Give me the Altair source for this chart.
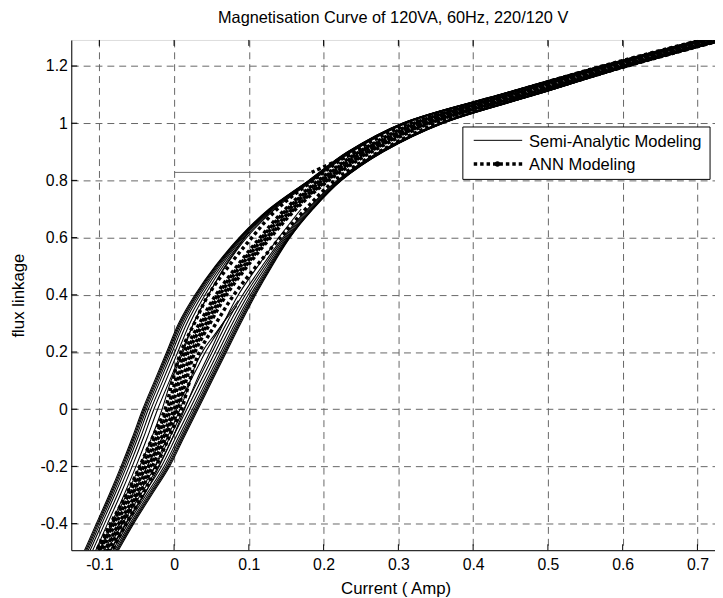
import altair as alt
import pandas as pd

# ---------------- data ----------------
X_TICKS = [-0.1, 0, 0.1, 0.2, 0.3, 0.4, 0.5, 0.6, 0.7]
Y_TICKS = [-0.4, -0.2, 0, 0.2, 0.4, 0.6, 0.8, 1, 1.2]

# flux levels at which the loop branches were read
Y_GRID = [1.31, 1.2, 1.1, 1.0, 0.9, 0.8, 0.7, 0.6, 0.5, 0.4, 0.3, 0.2, 0.1, 0.0,
          -0.1, -0.2, -0.3, -0.4, -0.5, -0.6]

# Semi-analytic model: nested hysteresis loops (left / right branch currents)
S1_LEFT = [0.730, 0.570, 0.435, 0.305, 0.232, 0.180, 0.127, 0.087, 0.055, 0.028, 0.006, -0.010, -0.026, -0.042, -0.056, -0.071, -0.087, -0.104, -0.121, -0.140]
S2_LEFT = [0.7305, 0.5705, 0.4355, 0.3055, 0.2325, 0.1805, 0.1276, 0.0878, 0.056, 0.0294, 0.0075, -0.0085, -0.0245, -0.0405, -0.0545, -0.0695, -0.0855, -0.1025, -0.1195, -0.1385]
S3_LEFT = [0.7309, 0.571, 0.436, 0.3059, 0.2329, 0.1809, 0.1282, 0.0885, 0.0571, 0.0307, 0.009, -0.007, -0.023, -0.039, -0.053, -0.068, -0.084, -0.101, -0.118, -0.137]
S4_LEFT = [0.7315, 0.5718, 0.4368, 0.3065, 0.2335, 0.1815, 0.129, 0.0895, 0.0585, 0.0325, 0.011, -0.005, -0.021, -0.037, -0.051, -0.066, -0.082, -0.099, -0.116, -0.135]
S5_LEFT = [0.7323, 0.5726, 0.4376, 0.3073, 0.2343, 0.1823, 0.130, 0.0908, 0.0603, 0.0348, 0.0135, -0.0025, -0.0185, -0.0345, -0.0485, -0.0635, -0.0795, -0.0965, -0.1135, -0.1325]
S6_LEFT = [0.7333, 0.5739, 0.4389, 0.3083, 0.2353, 0.1833, 0.1314, 0.0925, 0.0627, 0.0379, 0.017, 0.001, -0.015, -0.031, -0.045, -0.060, -0.076, -0.093, -0.110, -0.129]
S7_LEFT = [0.7345, 0.5753, 0.4403, 0.3095, 0.2365, 0.1845, 0.133, 0.0945, 0.0655, 0.0415, 0.021, 0.005, -0.011, -0.027, -0.041, -0.056, -0.072, -0.089, -0.106, -0.125]
S8_LEFT = [0.736, 0.577, 0.442, 0.311, 0.238, 0.186, 0.135, 0.097, 0.069, 0.046, 0.026, 0.010, -0.006, -0.022, -0.036, -0.051, -0.067, -0.084, -0.101, -0.120]

S1_RIGHT = [0.765, 0.610, 0.485, 0.360, 0.280, 0.224, 0.186, 0.155, 0.131, 0.109, 0.089, 0.070, 0.051, 0.032, 0.013, -0.006, -0.030, -0.054, -0.076, -0.098]
S2_RIGHT = [0.7646, 0.6095, 0.4845, 0.3596, 0.2796, 0.2236, 0.1854, 0.1543, 0.130, 0.1076, 0.0875, 0.0685, 0.0495, 0.0305, 0.0115, -0.0075, -0.0315, -0.0555, -0.0775, -0.0995]
S3_RIGHT = [0.7641, 0.609, 0.484, 0.3591, 0.2791, 0.2231, 0.1848, 0.1535, 0.1289, 0.1063, 0.086, 0.067, 0.048, 0.029, 0.010, -0.009, -0.033, -0.057, -0.079, -0.101]
S4_RIGHT = [0.7635, 0.6083, 0.4833, 0.3585, 0.2785, 0.2225, 0.184, 0.1525, 0.1275, 0.1045, 0.084, 0.065, 0.046, 0.027, 0.008, -0.011, -0.035, -0.059, -0.081, -0.103]
S5_RIGHT = [0.7628, 0.6074, 0.4824, 0.3578, 0.2778, 0.2218, 0.183, 0.1513, 0.1258, 0.1023, 0.0815, 0.0625, 0.0435, 0.0245, 0.0055, -0.0135, -0.0375, -0.0615, -0.0835, -0.1055]
S6_RIGHT = [0.7617, 0.6062, 0.4812, 0.3567, 0.2767, 0.2207, 0.1816, 0.1495, 0.1233, 0.0991, 0.078, 0.059, 0.040, 0.021, 0.002, -0.017, -0.041, -0.065, -0.087, -0.109]
S7_RIGHT = [0.7605, 0.6048, 0.4798, 0.3555, 0.2755, 0.2195, 0.180, 0.1475, 0.1205, 0.0955, 0.074, 0.055, 0.036, 0.017, -0.002, -0.021, -0.045, -0.069, -0.091, -0.113]
S8_RIGHT = [0.7593, 0.6034, 0.4784, 0.3543, 0.2743, 0.2183, 0.1784, 0.1455, 0.1177, 0.0919, 0.070, 0.051, 0.032, 0.013, -0.006, -0.025, -0.049, -0.073, -0.095, -0.117]

# inner thin semi-analytic traces (transients)
W1_X = [0.100, 0.068, 0.046, 0.026, 0.012, -0.004, -0.016, -0.030, -0.046, -0.064, -0.082, -0.100]
W1_Y = [0.62, 0.50, 0.40, 0.30, 0.20, 0.10, 0.00, -0.10, -0.20, -0.30, -0.40, -0.50]
W2_X = [0.170, 0.140, 0.112, 0.086, 0.066, 0.048, 0.030, 0.014, -0.002, -0.020, -0.040, -0.064, -0.086]
W2_Y = [0.70, 0.60, 0.50, 0.40, 0.30, 0.20, 0.10, 0.00, -0.10, -0.20, -0.30, -0.40, -0.50]
T1_X = [-0.056, -0.046, -0.036, -0.024, -0.012, 0.000, 0.010, 0.020, 0.030, 0.042, 0.056, 0.070, 0.086]
T1_Y = [-0.30, -0.25, -0.20, -0.14, -0.08, -0.02, 0.04, 0.09, 0.14, 0.20, 0.26, 0.32, 0.38]
T2_X = [-0.030, -0.022, -0.014, -0.004, 0.008, 0.018, 0.028, 0.040, 0.054, 0.068, 0.084]
T2_Y = [-0.22, -0.18, -0.127, -0.07, 0.00, 0.07, 0.15, 0.21, 0.26, 0.31, 0.36]

# ANN model loops
A1_LEFT = [0.744, 0.5864, 0.4564, 0.329, 0.2536, 0.198, 0.154, 0.120, 0.089, 0.061, 0.039, 0.019, 0.007, -0.004, -0.021, -0.038, -0.056, -0.078, -0.098, -0.119]
A1_RIGHT = [0.750, 0.5936, 0.4636, 0.335, 0.2584, 0.202, 0.158, 0.124, 0.093, 0.065, 0.043, 0.023, 0.011, 0.000, -0.017, -0.034, -0.052, -0.074, -0.094, -0.115]
A2_LEFT = [0.7403, 0.5819, 0.4519, 0.3253, 0.2506, 0.1955, 0.1515, 0.1175, 0.0865, 0.0585, 0.0365, 0.0165, 0.0045, -0.0065, -0.0235, -0.0405, -0.0585, -0.0805, -0.1005, -0.1215]
A2_RIGHT = [0.7538, 0.5981, 0.4681, 0.3388, 0.2614, 0.2045, 0.1605, 0.1265, 0.0955, 0.0675, 0.0455, 0.0255, 0.0135, 0.0025, -0.0145, -0.0315, -0.0495, -0.0715, -0.0915, -0.1125]
A4_LEFT = [0.7365, 0.5774, 0.4474, 0.3215, 0.2476, 0.193, 0.149, 0.115, 0.084, 0.056, 0.034, 0.014, 0.002, -0.009, -0.026, -0.043, -0.061, -0.083, -0.103, -0.124]
A4_RIGHT = [0.7575, 0.6026, 0.4726, 0.3425, 0.2644, 0.207, 0.163, 0.129, 0.098, 0.070, 0.048, 0.028, 0.016, 0.005, -0.012, -0.029, -0.047, -0.069, -0.089, -0.110]
A3_LEFT = [0.733, 0.573, 0.442, 0.316, 0.240, 0.186, 0.138, 0.104, 0.073, 0.046, 0.027, 0.009, -0.002, -0.012, -0.029, -0.046, -0.064, -0.085, -0.105, -0.126]
A3_RIGHT = [0.761, 0.606, 0.478, 0.352, 0.274, 0.215, 0.176, 0.142, 0.110, 0.080, 0.056, 0.034, 0.021, 0.010, -0.007, -0.024, -0.042, -0.064, -0.084, -0.105]
A0_X = [0.184, 0.215, 0.250, 0.290, 0.340, 0.400]
A0_Y = [0.828, 0.865, 0.905, 0.950, 1.000, 1.050]

# initial flat segment
H_X = [0.0, 0.184]
H_Y = [0.828, 0.828]

# ---------------- tables ----------------
def table(series_list):
    rows = []
    for name, xs, ys in series_list:
        for i, (xv, yv) in enumerate(zip(xs, ys)):
            rows.append({"series": name, "x": xv, "y": yv, "order": i})
    return pd.DataFrame(rows)

semi_df = table([
    ("S1L", S1_LEFT, Y_GRID), ("S2L", S2_LEFT, Y_GRID), ("S3L", S3_LEFT, Y_GRID),
    ("S4L", S4_LEFT, Y_GRID), ("S5L", S5_LEFT, Y_GRID), ("S6L", S6_LEFT, Y_GRID),
    ("S7L", S7_LEFT, Y_GRID), ("S8L", S8_LEFT, Y_GRID),
    ("S1R", S1_RIGHT, Y_GRID), ("S2R", S2_RIGHT, Y_GRID), ("S3R", S3_RIGHT, Y_GRID),
    ("S4R", S4_RIGHT, Y_GRID), ("S5R", S5_RIGHT, Y_GRID), ("S6R", S6_RIGHT, Y_GRID),
    ("S7R", S7_RIGHT, Y_GRID), ("S8R", S8_RIGHT, Y_GRID),
    ("W1", W1_X, W1_Y), ("W2", W2_X, W2_Y), ("T1", T1_X, T1_Y), ("T2", T2_X, T2_Y),
])
ann_df = table([
    ("A1L", A1_LEFT, Y_GRID), ("A1R", A1_RIGHT, Y_GRID),
    ("A2L", A2_LEFT, Y_GRID), ("A2R", A2_RIGHT, Y_GRID),
    ("A4L", A4_LEFT, Y_GRID), ("A4R", A4_RIGHT, Y_GRID),
    ("A3L", A3_LEFT, Y_GRID), ("A3R", A3_RIGHT, Y_GRID),
    ("A0", A0_X, A0_Y),
])
flat_df = table([("H", H_X, H_Y)])

FONT = "Liberation Sans"
W, H = 651, 516

xscale = alt.Scale(domain=[-0.1375, 0.7235], nice=False, zero=False)
yscale = alt.Scale(domain=[-0.493, 1.291], nice=False, zero=False)

common_axis = dict(
    grid=True, gridDash=[7, 5], gridColor="#666666", gridWidth=1, gridOpacity=1,
    ticks=False, domainColor="black", domainWidth=1,
    labelFont=FONT, labelFontSize=16, labelColor="black",
    labelExpr="'' + datum.value", labelOverlap=False, labelFlush=False,
    titleFont=FONT, titleFontSize=17, titleFontWeight="normal", titleColor="black",
)
xaxis = alt.Axis(values=X_TICKS, title="Current ( Amp)", labelPadding=7,
                 titleX=328, titleY=44, titleBaseline="alphabetic", titleAlign="center",
                 **common_axis)
yaxis = alt.Axis(values=Y_TICKS, title="flux linkage", labelPadding=4,
                 titleX=-48, titleY=H / 2, titleBaseline="alphabetic", titleAlign="center",
                 titleAngle=270, **common_axis)

X = alt.X("x:Q", scale=xscale, axis=xaxis)
Y = alt.Y("y:Q", scale=yscale, axis=yaxis)

semi = alt.Chart(semi_df).mark_line(
    color="black", strokeWidth=1.1, clip=True, interpolate="catmull-rom"
).encode(x=X, y=Y, detail="series:N", order="order:Q")

ann = alt.Chart(ann_df).mark_line(
    color="black", strokeWidth=3.5, strokeDash=[3.5, 3], clip=True, interpolate="catmull-rom"
).encode(x=X, y=Y, detail="series:N", order="order:Q")

flat = alt.Chart(flat_df).mark_line(color="#6e6e6e", strokeWidth=1, clip=True).encode(
    x=X, y=Y, order="order:Q")

# inward tick marks (MATLAB style)
xt_df = pd.DataFrame({"x": X_TICKS})
yt_df = pd.DataFrame({"y": Y_TICKS})
xt_bottom = alt.Chart(xt_df).mark_rule(color="black", strokeWidth=1).encode(
    x=X, y=alt.value(H), y2=alt.value(H - 6))
xt_top = alt.Chart(xt_df).mark_rule(color="black", strokeWidth=1).encode(
    x=X, y=alt.value(0), y2=alt.value(6))
yt_left = alt.Chart(yt_df).mark_rule(color="black", strokeWidth=1).encode(
    y=Y, x=alt.value(0), x2=alt.value(6))

# legend box
one = pd.DataFrame({"a": [0]})
LX0, LX1, LY0, LY1 = 396, 646, 88, 141
leg_box = alt.Chart(one).mark_rect(fill="white", stroke="black", strokeWidth=1).encode(
    x=alt.value(LX0), x2=alt.value(LX1), y=alt.value(LY0), y2=alt.value(LY1))
leg_line1 = alt.Chart(one).mark_rule(color="black", strokeWidth=1).encode(
    x=alt.value(407), x2=alt.value(456), y=alt.value(101.5))
leg_line2 = alt.Chart(one).mark_rule(color="black", strokeWidth=3.5, strokeDash=[3.5, 3]).encode(
    x=alt.value(407), x2=alt.value(457), y=alt.value(125.5))
leg_dot = alt.Chart(one).mark_point(filled=True, color="black", size=30, opacity=1).encode(
    x=alt.value(431), y=alt.value(125.5))
leg_t1 = alt.Chart(one).mark_text(text="Semi-Analytic Modeling", font=FONT, fontSize=16.7,
                                  align="left", baseline="middle", color="black").encode(
    x=alt.value(463), y=alt.value(103))
leg_t2 = alt.Chart(one).mark_text(text="ANN Modeling", font=FONT, fontSize=16.7,
                                  align="left", baseline="middle", color="black").encode(
    x=alt.value(463), y=alt.value(127))

chart = alt.layer(
    semi, ann, flat, xt_bottom, xt_top, yt_left,
    leg_box, leg_line1, leg_line2, leg_dot, leg_t1, leg_t2,
).properties(
    width=W, height=H,
    title=alt.TitleParams(
        text="Magnetisation Curve of 120VA, 60Hz, 220/120 V",
        font=FONT, fontSize=16.5, fontWeight="normal", color="black",
        anchor="middle", frame="group", offset=0, baseline="alphabetic",
    ),
    autosize=alt.AutoSizeParams(type="none"),
    padding={"left": 64, "top": 29, "right": 0, "bottom": 45},
).configure_view(stroke="black", strokeWidth=1).configure(background="white")

chart.save("out.html", embed_options={"renderer": "svg", "actions": False})
